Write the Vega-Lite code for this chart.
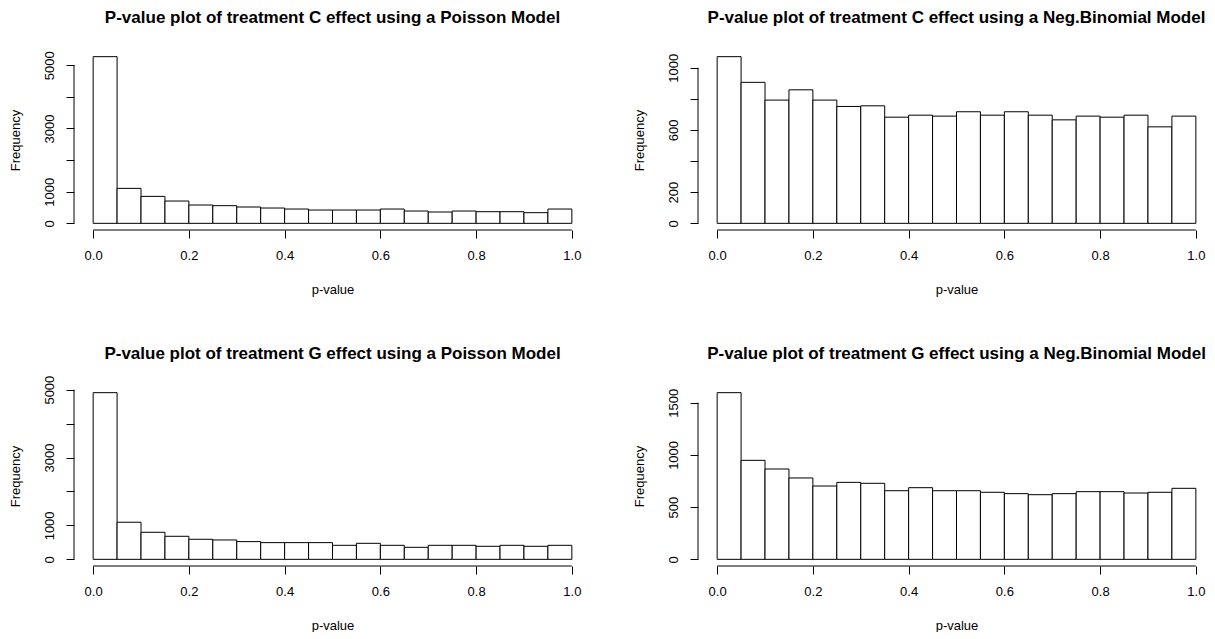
{
  "$schema": "https://vega.github.io/schema/vega-lite/v6.json",
  "background": "white",
  "padding": {"left": 9, "top": 9, "right": 0, "bottom": 0},
  "datasets": {
    "hist": [
      {"panel": "CP", "lo": 0.00, "hi": 0.05, "count": 5270},
      {"panel": "CP", "lo": 0.05, "hi": 0.10, "count": 1105},
      {"panel": "CP", "lo": 0.10, "hi": 0.15, "count": 852},
      {"panel": "CP", "lo": 0.15, "hi": 0.20, "count": 705},
      {"panel": "CP", "lo": 0.20, "hi": 0.25, "count": 579},
      {"panel": "CP", "lo": 0.25, "hi": 0.30, "count": 558},
      {"panel": "CP", "lo": 0.30, "hi": 0.35, "count": 516},
      {"panel": "CP", "lo": 0.35, "hi": 0.40, "count": 484},
      {"panel": "CP", "lo": 0.40, "hi": 0.45, "count": 452},
      {"panel": "CP", "lo": 0.45, "hi": 0.50, "count": 421},
      {"panel": "CP", "lo": 0.50, "hi": 0.55, "count": 421},
      {"panel": "CP", "lo": 0.55, "hi": 0.60, "count": 421},
      {"panel": "CP", "lo": 0.60, "hi": 0.65, "count": 452},
      {"panel": "CP", "lo": 0.65, "hi": 0.70, "count": 389},
      {"panel": "CP", "lo": 0.70, "hi": 0.75, "count": 358},
      {"panel": "CP", "lo": 0.75, "hi": 0.80, "count": 389},
      {"panel": "CP", "lo": 0.80, "hi": 0.85, "count": 368},
      {"panel": "CP", "lo": 0.85, "hi": 0.90, "count": 368},
      {"panel": "CP", "lo": 0.90, "hi": 0.95, "count": 337},
      {"panel": "CP", "lo": 0.95, "hi": 1.00, "count": 452},
      {"panel": "CN", "lo": 0.00, "hi": 0.05, "count": 1071},
      {"panel": "CN", "lo": 0.05, "hi": 0.10, "count": 906},
      {"panel": "CN", "lo": 0.10, "hi": 0.15, "count": 792},
      {"panel": "CN", "lo": 0.15, "hi": 0.20, "count": 858},
      {"panel": "CN", "lo": 0.20, "hi": 0.25, "count": 792},
      {"panel": "CN", "lo": 0.25, "hi": 0.30, "count": 751},
      {"panel": "CN", "lo": 0.30, "hi": 0.35, "count": 755},
      {"panel": "CN", "lo": 0.35, "hi": 0.40, "count": 682},
      {"panel": "CN", "lo": 0.40, "hi": 0.45, "count": 695},
      {"panel": "CN", "lo": 0.45, "hi": 0.50, "count": 689},
      {"panel": "CN", "lo": 0.50, "hi": 0.55, "count": 717},
      {"panel": "CN", "lo": 0.55, "hi": 0.60, "count": 695},
      {"panel": "CN", "lo": 0.60, "hi": 0.65, "count": 717},
      {"panel": "CN", "lo": 0.65, "hi": 0.70, "count": 695},
      {"panel": "CN", "lo": 0.70, "hi": 0.75, "count": 665},
      {"panel": "CN", "lo": 0.75, "hi": 0.80, "count": 689},
      {"panel": "CN", "lo": 0.80, "hi": 0.85, "count": 682},
      {"panel": "CN", "lo": 0.85, "hi": 0.90, "count": 695},
      {"panel": "CN", "lo": 0.90, "hi": 0.95, "count": 620},
      {"panel": "CN", "lo": 0.95, "hi": 1.00, "count": 689},
      {"panel": "GP", "lo": 0.00, "hi": 0.05, "count": 4911},
      {"panel": "GP", "lo": 0.05, "hi": 0.10, "count": 1093},
      {"panel": "GP", "lo": 0.10, "hi": 0.15, "count": 797},
      {"panel": "GP", "lo": 0.15, "hi": 0.20, "count": 679},
      {"panel": "GP", "lo": 0.20, "hi": 0.25, "count": 591},
      {"panel": "GP", "lo": 0.25, "hi": 0.30, "count": 571},
      {"panel": "GP", "lo": 0.30, "hi": 0.35, "count": 522},
      {"panel": "GP", "lo": 0.35, "hi": 0.40, "count": 492},
      {"panel": "GP", "lo": 0.40, "hi": 0.45, "count": 492},
      {"panel": "GP", "lo": 0.45, "hi": 0.50, "count": 492},
      {"panel": "GP", "lo": 0.50, "hi": 0.55, "count": 413},
      {"panel": "GP", "lo": 0.55, "hi": 0.60, "count": 472},
      {"panel": "GP", "lo": 0.60, "hi": 0.65, "count": 413},
      {"panel": "GP", "lo": 0.65, "hi": 0.70, "count": 354},
      {"panel": "GP", "lo": 0.70, "hi": 0.75, "count": 413},
      {"panel": "GP", "lo": 0.75, "hi": 0.80, "count": 413},
      {"panel": "GP", "lo": 0.80, "hi": 0.85, "count": 384},
      {"panel": "GP", "lo": 0.85, "hi": 0.90, "count": 413},
      {"panel": "GP", "lo": 0.90, "hi": 0.95, "count": 384},
      {"panel": "GP", "lo": 0.95, "hi": 1.00, "count": 413},
      {"panel": "GN", "lo": 0.00, "hi": 0.05, "count": 1596},
      {"panel": "GN", "lo": 0.05, "hi": 0.10, "count": 948},
      {"panel": "GN", "lo": 0.10, "hi": 0.15, "count": 865},
      {"panel": "GN", "lo": 0.15, "hi": 0.20, "count": 779},
      {"panel": "GN", "lo": 0.20, "hi": 0.25, "count": 702},
      {"panel": "GN", "lo": 0.25, "hi": 0.30, "count": 737},
      {"panel": "GN", "lo": 0.30, "hi": 0.35, "count": 728},
      {"panel": "GN", "lo": 0.35, "hi": 0.40, "count": 657},
      {"panel": "GN", "lo": 0.40, "hi": 0.45, "count": 686},
      {"panel": "GN", "lo": 0.45, "hi": 0.50, "count": 657},
      {"panel": "GN", "lo": 0.50, "hi": 0.55, "count": 657},
      {"panel": "GN", "lo": 0.55, "hi": 0.60, "count": 642},
      {"panel": "GN", "lo": 0.60, "hi": 0.65, "count": 629},
      {"panel": "GN", "lo": 0.65, "hi": 0.70, "count": 619},
      {"panel": "GN", "lo": 0.70, "hi": 0.75, "count": 629},
      {"panel": "GN", "lo": 0.75, "hi": 0.80, "count": 648},
      {"panel": "GN", "lo": 0.80, "hi": 0.85, "count": 648},
      {"panel": "GN", "lo": 0.85, "hi": 0.90, "count": 635},
      {"panel": "GN", "lo": 0.90, "hi": 0.95, "count": 642},
      {"panel": "GN", "lo": 0.95, "hi": 1.00, "count": 680}
    ]
  },
  "columns": 2,
  "spacing": {"row": 156, "column": 107},
  "bounds": "flush",
  "concat": [
    {
      "title": "P-value plot of treatment C effect using a Poisson Model",
      "width": 517, "height": 180,
      "resolve": {"axis": {"x": "independent", "y": "independent"}},
      "layer": [
        {
          "data": {"name": "hist"},
          "transform": [{"filter": "datum.panel === 'CP'"}],
          "mark": {"type": "bar", "fill": "white", "stroke": "black", "strokeWidth": 1},
          "encoding": {
            "x": {"field": "lo", "type": "quantitative", "scale": {"domain": [-0.04, 1.04], "nice": false, "zero": false},
                  "axis": {"title": "p-value", "values": [0, 0.2, 0.4, 0.6, 0.8, 1], "format": ".1f", "labelOverlap": false}},
            "x2": {"field": "hi"},
            "y": {"field": "count", "type": "quantitative", "scale": {"domain": [-210.8, 5480.8], "nice": false, "zero": false},
                  "axis": {"title": "Frequency", "values": [0, 1000, 2000, 3000, 4000, 5000], "format": "d", "labelOverlap": false,
                           "labelAngle": 270, "labelAlign": "center", "labelBaseline": "alphabetic",
                           "labelExpr": "datum.value == 2000 || datum.value == 4000 ? '' : datum.label"}},
            "y2": {"datum": 0}
          }
        },
        {
          "data": {"values": [{}]},
          "mark": {"type": "rule", "color": "black", "strokeWidth": 1},
          "encoding": {"x": {"datum": 0, "type": "quantitative", "axis": null}, "x2": {"datum": 1}, "y": {"datum": -210.8, "type": "quantitative", "axis": null}}
        },
        {
          "data": {"values": [{}]},
          "mark": {"type": "rule", "color": "black", "strokeWidth": 1},
          "encoding": {"x": {"datum": -0.04, "type": "quantitative", "axis": null}, "y": {"datum": 0, "type": "quantitative", "axis": null}, "y2": {"datum": 5000}}
        }
      ]
    },
    {
      "title": "P-value plot of treatment C effect using a Neg.Binomial Model",
      "width": 517, "height": 180,
      "resolve": {"axis": {"x": "independent", "y": "independent"}},
      "layer": [
        {
          "data": {"name": "hist"},
          "transform": [{"filter": "datum.panel === 'CN'"}],
          "mark": {"type": "bar", "fill": "white", "stroke": "black", "strokeWidth": 1},
          "encoding": {
            "x": {"field": "lo", "type": "quantitative", "scale": {"domain": [-0.04, 1.04], "nice": false, "zero": false},
                  "axis": {"title": "p-value", "values": [0, 0.2, 0.4, 0.6, 0.8, 1], "format": ".1f", "labelOverlap": false}},
            "x2": {"field": "hi"},
            "y": {"field": "count", "type": "quantitative", "scale": {"domain": [-42.84, 1113.84], "nice": false, "zero": false},
                  "axis": {"title": "Frequency", "values": [0, 200, 400, 600, 800, 1000], "format": "d", "labelOverlap": false,
                           "labelAngle": 270, "labelAlign": "center", "labelBaseline": "alphabetic",
                           "labelExpr": "datum.value == 400 || datum.value == 800 ? '' : datum.label"}},
            "y2": {"datum": 0}
          }
        },
        {
          "data": {"values": [{}]},
          "mark": {"type": "rule", "color": "black", "strokeWidth": 1},
          "encoding": {"x": {"datum": 0, "type": "quantitative", "axis": null}, "x2": {"datum": 1}, "y": {"datum": -42.84, "type": "quantitative", "axis": null}}
        },
        {
          "data": {"values": [{}]},
          "mark": {"type": "rule", "color": "black", "strokeWidth": 1},
          "encoding": {"x": {"datum": -0.04, "type": "quantitative", "axis": null}, "y": {"datum": 0, "type": "quantitative", "axis": null}, "y2": {"datum": 1000}}
        }
      ]
    },
    {
      "title": {"text": "P-value plot of treatment G effect using a Poisson Model", "offset": 12},
      "width": 517, "height": 180,
      "resolve": {"axis": {"x": "independent", "y": "independent"}},
      "layer": [
        {
          "data": {"name": "hist"},
          "transform": [{"filter": "datum.panel === 'GP'"}],
          "mark": {"type": "bar", "fill": "white", "stroke": "black", "strokeWidth": 1},
          "encoding": {
            "x": {"field": "lo", "type": "quantitative", "scale": {"domain": [-0.04, 1.04], "nice": false, "zero": false},
                  "axis": {"title": "p-value", "values": [0, 0.2, 0.4, 0.6, 0.8, 1], "format": ".1f", "labelOverlap": false}},
            "x2": {"field": "hi"},
            "y": {"field": "count", "type": "quantitative", "scale": {"domain": [-196.44, 5107.44], "nice": false, "zero": false},
                  "axis": {"title": "Frequency", "values": [0, 1000, 2000, 3000, 4000, 5000], "format": "d", "labelOverlap": false,
                           "labelAngle": 270, "labelAlign": "center", "labelBaseline": "alphabetic",
                           "labelExpr": "datum.value == 2000 || datum.value == 4000 ? '' : datum.label"}},
            "y2": {"datum": 0}
          }
        },
        {
          "data": {"values": [{}]},
          "mark": {"type": "rule", "color": "black", "strokeWidth": 1},
          "encoding": {"x": {"datum": 0, "type": "quantitative", "axis": null}, "x2": {"datum": 1}, "y": {"datum": -196.44, "type": "quantitative", "axis": null}}
        },
        {
          "data": {"values": [{}]},
          "mark": {"type": "rule", "color": "black", "strokeWidth": 1},
          "encoding": {"x": {"datum": -0.04, "type": "quantitative", "axis": null}, "y": {"datum": 0, "type": "quantitative", "axis": null}, "y2": {"datum": 5000}}
        }
      ]
    },
    {
      "title": "P-value plot of treatment G effect using a Neg.Binomial Model",
      "width": 517, "height": 180,
      "resolve": {"axis": {"x": "independent", "y": "independent"}},
      "layer": [
        {
          "data": {"name": "hist"},
          "transform": [{"filter": "datum.panel === 'GN'"}],
          "mark": {"type": "bar", "fill": "white", "stroke": "black", "strokeWidth": 1},
          "encoding": {
            "x": {"field": "lo", "type": "quantitative", "scale": {"domain": [-0.04, 1.04], "nice": false, "zero": false},
                  "axis": {"title": "p-value", "values": [0, 0.2, 0.4, 0.6, 0.8, 1], "format": ".1f", "labelOverlap": false}},
            "x2": {"field": "hi"},
            "y": {"field": "count", "type": "quantitative", "scale": {"domain": [-63.84, 1659.84], "nice": false, "zero": false},
                  "axis": {"title": "Frequency", "values": [0, 500, 1000, 1500], "format": "d", "labelOverlap": false,
                           "labelAngle": 270, "labelAlign": "center", "labelBaseline": "alphabetic"}},
            "y2": {"datum": 0}
          }
        },
        {
          "data": {"values": [{}]},
          "mark": {"type": "rule", "color": "black", "strokeWidth": 1},
          "encoding": {"x": {"datum": 0, "type": "quantitative", "axis": null}, "x2": {"datum": 1}, "y": {"datum": -63.84, "type": "quantitative", "axis": null}}
        },
        {
          "data": {"values": [{}]},
          "mark": {"type": "rule", "color": "black", "strokeWidth": 1},
          "encoding": {"x": {"datum": -0.04, "type": "quantitative", "axis": null}, "y": {"datum": 0, "type": "quantitative", "axis": null}, "y2": {"datum": 1500}}
        }
      ]
    }
  ],
  "config": {
    "font": "Liberation Sans",
    "view": {"stroke": null},
    "axis": {
      "domain": false,
      "grid": false,
      "tickSize": 8,
      "tickColor": "black",
      "tickWidth": 1,
      "labelFont": "Liberation Sans",
      "labelFontSize": 13,
      "labelColor": "black",
      "labelFlush": false,
      "labelOverlap": false,
      "titleFont": "Liberation Sans",
      "titleFontSize": 13,
      "titleFontWeight": "normal",
      "titleColor": "black"
    },
    "axisX": {"labelPadding": 11, "titlePadding": 21},
    "axisY": {"labelPadding": 12.7, "titlePadding": 21},
    "title": {
      "font": "Liberation Sans",
      "fontSize": 17,
      "fontWeight": "bold",
      "color": "black",
      "anchor": "middle",
      "frame": "group",
      "baseline": "alphabetic",
      "offset": 23
    }
  }
}
